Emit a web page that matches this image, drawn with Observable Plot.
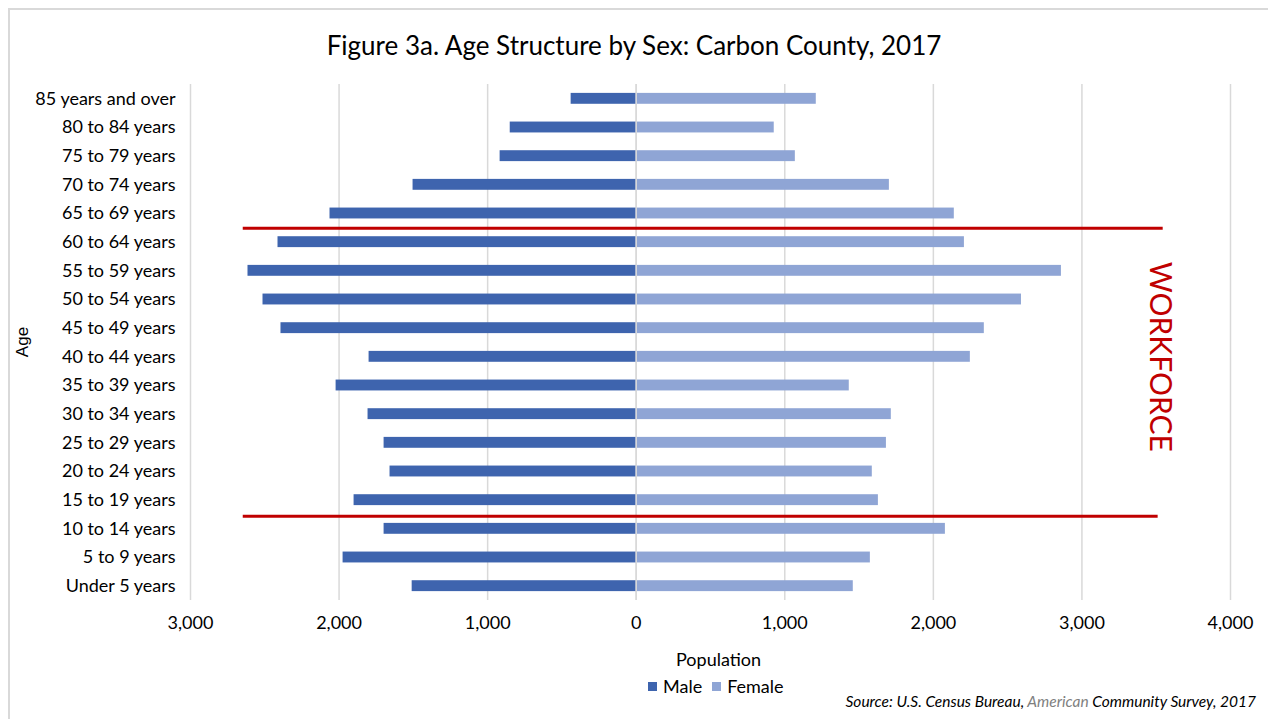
<!DOCTYPE html>
<html>
<head>
<meta charset="utf-8">
<script src="https://cdn.jsdelivr.net/npm/d3@7"></script>
<script src="https://cdn.jsdelivr.net/npm/@observablehq/plot@0.6"></script>
<style>
  html, body { margin: 0; padding: 0; background: #fff; }
  #wrap { position: relative; width: 1268px; height: 719px; overflow: hidden; background: #fff; font-family: Lato, "Open Sans", sans-serif; color: #000; }
  #frame { position: absolute; left: 8px; top: 8px; width: 1270px; height: 720px; border-top: 2px solid #d9d9d9; border-left: 2px solid #d9d9d9; }
  #chart { position: absolute; left: 0; top: 0; }
  .title { position: absolute; left: 0; width: 1268px; top: 29px; text-align: center; font-size: 26px; }
  .xlabel { position: absolute; left: 676px; top: 648px; font-size: 18px; }
  .ylabel { position: absolute; left: 23px; top: 342px; font-family: "Liberation Sans", Arial, sans-serif; font-size: 17px; transform: translate(-50%, -50%) rotate(-90deg); white-space: nowrap; }
  .legend { position: absolute; left: 648px; top: 675px; font-size: 18px; display: flex; align-items: center; white-space: nowrap; }
  .legend .sw { display: inline-block; width: 9px; height: 9px; margin-right: 6px; }
  .source { position: absolute; right: 12px; top: 692px; font-size: 15.5px; font-style: italic; white-space: nowrap; }
</style>
</head>
<body>
<div id="wrap">
  <div id="frame"></div>
  <div id="chart"></div>
  <div class="title">Figure 3a. Age Structure by Sex: Carbon County, 2017</div>
  <div class="ylabel">Age</div>
  <div class="xlabel">Population</div>
  <div class="legend"><span class="sw" style="background:#3E64AE"></span><span style="margin-right:10px">Male</span><span class="sw" style="background:#8FA5D5"></span><span>Female</span></div>
  <div class="source">Source: U.S. Census Bureau, <span style="color:#7f7f7f">American</span> Community Survey, 2017</div>
</div>
<script>
const ages = ["85 years and over","80 to 84 years","75 to 79 years","70 to 74 years","65 to 69 years","60 to 64 years","55 to 59 years","50 to 54 years","45 to 49 years","40 to 44 years","35 to 39 years","30 to 34 years","25 to 29 years","20 to 24 years","15 to 19 years","10 to 14 years","5 to 9 years","Under 5 years"];
const male   = [438, 848, 916, 1502, 2061, 2411, 2613, 2512, 2391, 1798, 2020, 1805, 1697, 1657, 1899, 1697, 1973, 1508];
const female = [1212, 929, 1071, 1704, 2141, 2209, 2862, 2593, 2343, 2249, 1434, 1717, 1684, 1589, 1630, 2081, 1576, 1461];
const xTicks = [-3000, -2000, -1000, 0, 1000, 2000, 3000, 4000];
const workforceTop = "60 to 64 years";
const workforceBottom = "15 to 19 years";

const maleRows = ages.map((a, i) => ({age: a, value: -male[i]}));
const femaleRows = ages.map((a, i) => ({age: a, value: female[i]}));

const maleColor = "#3E64AE", femaleColor = "#8FA5D5", red = "#C00000";

const chart = Plot.plot({
  width: 1268,
  height: 719,
  marginLeft: 190,
  marginRight: 38,
  marginTop: 84,
  marginBottom: 119,
  style: {fontFamily: "Lato, 'Open Sans', sans-serif", fontSize: "18px", color: "#000", background: "transparent"},
  x: {domain: [-3000, 4000], ticks: xTicks, tickFormat: d => d3.format(",")(Math.abs(d)), tickSize: 0, tickPadding: 16, label: null},
  y: {domain: ages, paddingInner: 0.62, paddingOuter: 0.31, round: false, tickSize: 0, tickPadding: 15, label: null},
  marks: [
    Plot.gridX(xTicks, {stroke: "#d9d9d9", strokeOpacity: 1, strokeWidth: 1.5}),
    Plot.barX(maleRows, {x: "value", y: "age", fill: maleColor}),
    Plot.barX(femaleRows, {x: "value", y: "age", fill: femaleColor}),
    Plot.ruleX([0], {stroke: "#d9d9d9", strokeWidth: 1.5}),
    Plot.ruleY([workforceTop], {y: d => d, x1: -2645, x2: 3547, stroke: red, strokeWidth: 3, dy: -14}),
    Plot.ruleY([workforceBottom], {y: d => d, x1: -2645, x2: 3513, stroke: red, strokeWidth: 3, dy: 16}),
    Plot.text(["WORKFORCE"], {x: 3520, y: () => "40 to 44 years", text: d => d, rotate: 90, fill: red, fontSize: 30, fontFamily: "Lato, sans-serif"}),
    Plot.axisX({ticks: xTicks, tickFormat: d => d3.format(",")(Math.abs(d)), tickSize: 0, tickPadding: 16, label: null, fontSize: 18}),
    Plot.axisY({tickSize: 0, tickPadding: 15, label: null, fontSize: 18})
  ]
});
document.getElementById("chart").appendChild(chart);
</script>
</body>
</html>
